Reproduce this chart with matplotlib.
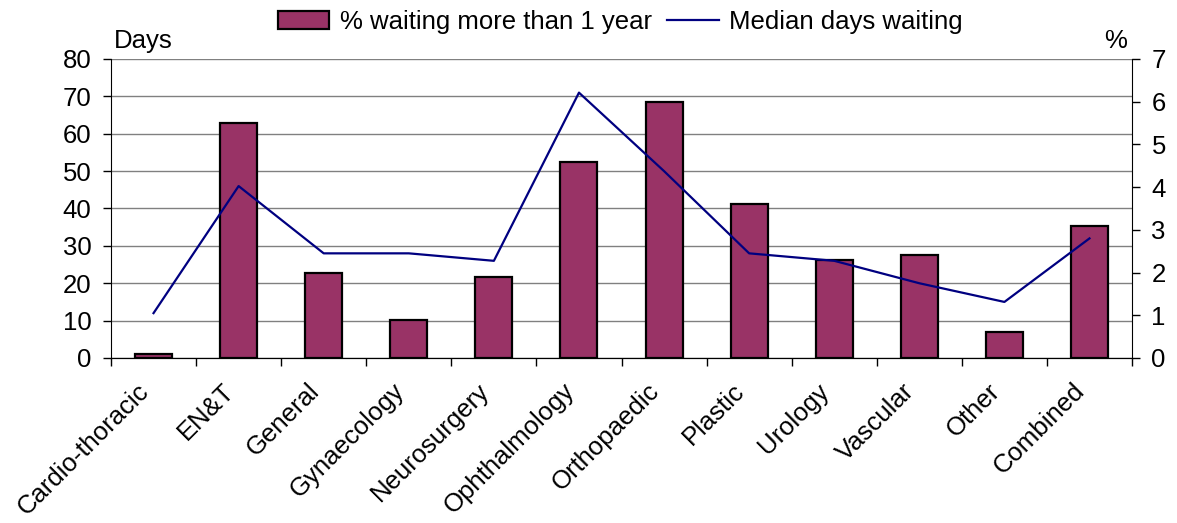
import numpy as np
import matplotlib
matplotlib.use("Agg")
import matplotlib.pyplot as plt

plt.rcParams["font.family"] = ["Liberation Sans", "DejaVu Sans"]

specialties = ["Cardio-thoracic", "EN&T", "General", "Gynaecology", "Neurosurgery",
               "Ophthalmology", "Orthopaedic", "Plastic", "Urology", "Vascular",
               "Other", "Combined"]
pct_over_year = [0.1, 5.5, 2.0, 0.9, 1.9, 4.6, 6.0, 3.6, 2.3, 2.4, 0.6, 3.1]
median_days = [12, 46, 28, 28, 26, 71, 50, 28, 26, 20, 15, 32]

x = np.arange(len(specialties))
fs = 18.5

fig = plt.figure(figsize=(11.77, 5.23), dpi=100)
ax = fig.add_axes([0.0943, 0.3155, 0.8675, 0.5717])
ax2 = ax.twinx()

# days axis on the left carries the gridlines
ax.set_ylim(0, 80)
ax.set_yticks(np.arange(0, 81, 10))
ax.yaxis.grid(True, color="#808080", linewidth=1)
ax.set_axisbelow(True)
ax.set_xlim(-0.5, len(specialties) - 0.5)

# % axis on the right carries the bars
bars = ax2.bar(x, pct_over_year, width=0.435, color="#993366",
               edgecolor="black", linewidth=1.6, zorder=2,
               label="% waiting more than 1 year")
line, = ax2.plot(x, median_days, transform=ax.transData, color="#000080",
                 linewidth=1.6, zorder=3, label="Median days waiting")
ax2.set_ylim(0, 7)
ax2.set_yticks(np.arange(0, 8, 1))

# ticks between categories, labels at the centres
ax.set_xticks(np.arange(-0.5, len(specialties), 1))
ax.set_xticklabels([])
ax.set_xticks(x, labels=specialties, minor=True, rotation=45, ha="right")
ax.tick_params(axis="x", which="major", direction="out", length=6, width=1)
ax.tick_params(axis="x", which="minor", length=0, pad=15, labelsize=fs)
ax.tick_params(axis="y", direction="out", length=6, width=1, pad=8, labelsize=fs)
ax2.tick_params(axis="y", direction="out", length=6, width=1, pad=8, labelsize=fs)

for a in (ax, ax2):
    a.spines["top"].set_visible(False)
ax2.spines["left"].set_visible(False)
ax.spines["right"].set_visible(False)

fig.text(114 / 1177, 1 - 48 / 523, "Days", fontsize=fs, va="baseline", ha="left")
fig.text(1127 / 1177, 1 - 48 / 523, "%", fontsize=fs, va="baseline", ha="right")

fig.legend(handles=[bars, line], loc="center", bbox_to_anchor=(0.527, 0.958),
           ncol=2, frameon=False, fontsize=fs, handlelength=2.0,
           handletextpad=0.4, columnspacing=0.6, borderaxespad=0)

fig.savefig("out.png", dpi=100)
